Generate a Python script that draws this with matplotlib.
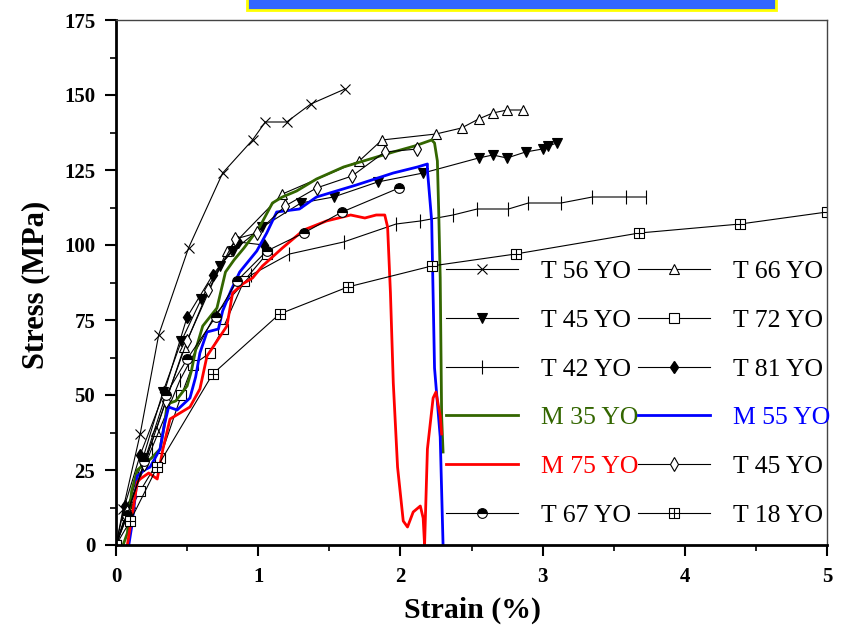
import numpy as np
import matplotlib
matplotlib.use("Agg")
import matplotlib.pyplot as plt
from matplotlib.path import Path
from matplotlib.patches import Rectangle

plt.rcParams['font.family'] = ['Liberation Serif', 'DejaVu Serif']

# ---- data (strain %, stress MPa) ----
t56_x = [0, 0.05, 0.17, 0.30, 0.51, 0.75, 0.96, 1.05, 1.20, 1.37, 1.61]
t56_y = [0, 12, 37, 70, 99, 124, 135, 141, 141, 147, 152]

t66_x = [0, 0.10, 0.28, 0.48, 0.78, 1.17, 1.71, 1.87, 2.25, 2.43, 2.55, 2.65, 2.75, 2.86]
t66_y = [0, 14, 38, 66, 98, 117, 128, 135, 137, 139, 142, 144, 145, 145]

t45_x = [0, 0.08, 0.19, 0.33, 0.46, 0.60, 0.73, 0.82, 1.03, 1.30, 1.53, 1.84, 2.16,
         2.55, 2.65, 2.75, 2.88, 3.00, 3.04, 3.10]
t45_y = [0, 12, 29, 51, 68, 82, 93, 98, 106, 114, 116, 121, 124,
         129, 130, 129, 131, 132, 133, 134]

t72_x = [0, 0.08, 0.17, 0.31, 0.46, 0.54, 0.66, 0.75, 0.90, 1.06]
t72_y = [0, 10, 18, 29, 50, 60, 64, 72, 88, 97]

t42_x = [0, 0.10, 0.25, 0.45, 0.70, 0.95, 1.22, 1.60, 1.97, 2.14, 2.37, 2.54, 2.76,
         2.90, 3.13, 3.35, 3.59, 3.73]
t42_y = [0, 14, 32, 55, 77, 90, 97, 101, 107, 108, 110, 112, 112,
         114, 114, 116, 116, 116]

t81_x = [0, 0.06, 0.17, 0.34, 0.50, 0.68, 0.86, 1.04]
t81_y = [0, 13, 30, 51, 76, 90, 101, 100]

t45b_x = [0, 0.08, 0.20, 0.35, 0.50, 0.65, 0.84, 0.99, 1.19, 1.41, 1.66, 1.89, 2.12]
t45b_y = [0, 11, 27, 48, 68, 85, 102, 104, 113, 119, 123, 131, 132]

t67_x = [0, 0.08, 0.20, 0.35, 0.50, 0.70, 0.85, 1.06, 1.32, 1.59, 1.99]
t67_y = [0, 10, 28, 50, 62, 76, 88, 98, 104, 111, 119]

t18_x = [0, 0.10, 0.29, 0.68, 1.15, 1.63, 2.22, 2.81, 3.68, 4.39, 5.00]
t18_y = [0, 8, 26, 57, 77, 86, 93, 97, 104, 107, 111]

m35_x = [0.05, 0.08, 0.11, 0.15, 0.20, 0.25, 0.31, 0.34, 0.36, 0.42, 0.50, 0.53, 0.56,
         0.61, 0.66, 0.71, 0.77, 0.83, 0.90, 1.01, 1.10, 1.17, 1.27, 1.41, 1.60, 1.74,
         1.95, 2.10, 2.22, 2.24, 2.26, 2.27, 2.28, 2.29, 2.30]
m35_y = [0, 4, 18, 25, 27, 29, 32, 40, 47, 48, 53, 58, 65,
         73, 76, 79, 91, 95, 99, 106, 114, 116, 118, 122, 126, 128,
         131, 133, 135, 134, 128, 110, 89, 43, 31]

m55_x = [0.09, 0.11, 0.13, 0.15, 0.20, 0.24, 0.31, 0.34, 0.37, 0.43, 0.52, 0.56, 0.59,
         0.64, 0.72, 0.75, 0.81, 0.87, 0.99, 1.06, 1.13, 1.29, 1.41, 1.55, 1.69, 1.95,
         2.12, 2.19, 2.19, 2.22, 2.24, 2.28, 2.29, 2.30]
m55_y = [0, 6, 14, 23, 25, 26, 32, 40, 46, 45, 49, 56, 64,
         71, 72, 78, 85, 91, 98, 104, 111, 112, 116, 118, 120, 124,
         126, 127, 125, 108, 59, 36, 18, 0]

m75_x = [0.08, 0.11, 0.15, 0.17, 0.23, 0.29, 0.33, 0.38, 0.45, 0.52, 0.59, 0.64, 0.71,
         0.78, 0.82, 0.89, 0.96, 1.03, 1.10, 1.17, 1.32, 1.48, 1.65, 1.75, 1.83, 1.89,
         1.91, 1.93, 1.95, 1.98, 2.02, 2.05, 2.09, 2.14, 2.16, 2.17, 2.19, 2.23, 2.25,
         2.28, 2.29]
m75_y = [0, 9, 21, 22, 24, 22, 32, 42, 44, 46, 52, 63, 68,
         73, 84, 87, 89, 93, 96, 99, 105, 108, 110, 109, 110, 110,
         106, 84, 54, 26, 8, 6, 11, 13, 9, 0, 32, 49, 51,
         43, 37]

# square-with-cross marker for T 18
boxplus = Path(
    [(-1, -1), (1, -1), (1, 1), (-1, 1), (-1, -1), (0, -1), (0, 1), (-1, 0), (1, 0)],
    [Path.MOVETO, Path.LINETO, Path.LINETO, Path.LINETO, Path.CLOSEPOLY,
     Path.MOVETO, Path.LINETO, Path.MOVETO, Path.LINETO])

fig = plt.figure(figsize=(8.41, 6.32), dpi=100)
ax = fig.add_axes([116 / 841, 87 / 632, 711 / 841, 525 / 632])

# blue banner at the top
fig.patches.append(Rectangle((247 / 841, 622 / 632), 529 / 841, 12 / 632,
                             transform=fig.transFigure, facecolor='#3366ff',
                             edgecolor='#ffff00', lw=2, clip_on=False))

thin = dict(color='black', lw=0.8, ms=7, mew=0.8)
h = {}
h['T 56 YO'], = ax.plot(t56_x, t56_y, marker='x', **thin)
h['T 66 YO'], = ax.plot(t66_x, t66_y, marker='^', mfc='white', **thin)
h['T 45 YO'], = ax.plot(t45_x, t45_y, marker='v', mfc='black', **thin)
h['T 72 YO'], = ax.plot(t72_x, t72_y, marker='s', mfc='white', **thin)
h['T 42 YO'], = ax.plot(t42_x, t42_y, marker='|', ms=10, color='black', lw=0.8, mew=0.8)
h['T 81 YO'], = ax.plot(t81_x, t81_y, marker='d', mfc='black', color='black', lw=0.8, ms=6)
h['M 35 YO'], = ax.plot(m35_x, m35_y, color='#336600', lw=2)
h['M 55 YO'], = ax.plot(m55_x, m55_y, color='#0000ff', lw=2)
h['M 75 YO'], = ax.plot(m75_x, m75_y, color='#ff0000', lw=2)
h['T 45 YO b'], = ax.plot(t45b_x, t45b_y, marker='d', mfc='white', **thin)
h['T 67 YO'], = ax.plot(t67_x, t67_y, marker='o', fillstyle='top', mfc='black',
                        markerfacecoloralt='white', **thin)
h['T 18 YO'], = ax.plot(t18_x, t18_y, marker=boxplus, mfc='white', **thin)

col1 = ['T 56 YO', 'T 45 YO', 'T 42 YO', 'M 35 YO', 'M 75 YO', 'T 67 YO']
col2 = ['T 66 YO', 'T 72 YO', 'T 81 YO', 'M 55 YO', 'T 45 YO b', 'T 18 YO']
keys = col1 + col2
labels = [k.replace(' b', '') for k in keys]
leg = ax.legend([h[k] for k in keys], labels, ncol=2, loc='upper left',
                bbox_to_anchor=(0.464, 0.542), frameon=False, fontsize=18.5,
                handlelength=2.8, handletextpad=0.9, columnspacing=0.0,
                labelspacing=1.0, borderpad=0, borderaxespad=0)
text_colors = {'M 35 YO': '#336600', 'M 55 YO': '#0000ff', 'M 75 YO': '#ff0000'}
for t in leg.get_texts():
    t.set_color(text_colors.get(t.get_text(), 'black'))

ax.set_xlim(0, 5)
ax.set_ylim(0, 175)
ax.set_xticks(np.arange(0, 5.1, 1))
ax.set_xticks(np.arange(0, 5.1, 0.5), minor=True)
ax.set_yticks(np.arange(0, 176, 25))
ax.set_yticks(np.arange(0, 176, 12.5), minor=True)
ax.tick_params(which='major', direction='out', length=8, width=1.5, labelsize=15)
ax.tick_params(axis='x', which='major', pad=8)
ax.tick_params(axis='y', which='major', pad=7)
ax.tick_params(which='minor', direction='out', length=4, width=1.2)
for lab in ax.get_xticklabels() + ax.get_yticklabels():
    lab.set_fontweight('bold')

ax.spines['left'].set_linewidth(2)
ax.spines['bottom'].set_linewidth(2)
ax.spines['top'].set_linewidth(1)
ax.spines['right'].set_linewidth(1)
ax.spines['top'].set_color('#444444')
ax.spines['right'].set_color('#444444')

ax.set_xlabel('Strain (%)', fontsize=21.5, fontweight='bold')
ax.set_ylabel('Stress (MPa)', fontsize=22, fontweight='bold')
ax.xaxis.set_label_coords(0.502, -0.098)
ax.yaxis.set_label_coords(-0.092, 0.495)

fig.savefig('out.png', dpi=100)
